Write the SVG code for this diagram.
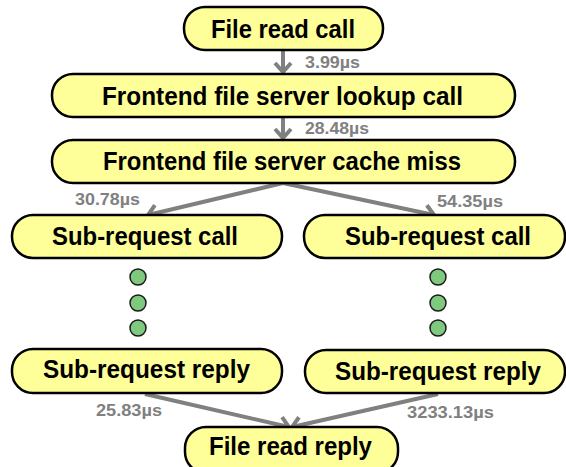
<svg xmlns="http://www.w3.org/2000/svg" width="566" height="467" viewBox="0 0 566 467">
<style>
.node{fill:#ffff99;stroke:#000;stroke-width:2.5}
.nt{font-family:"Liberation Sans",Arial,sans-serif;font-weight:bold;font-size:25px;fill:#000}
.lb{font-family:"Liberation Sans",Arial,sans-serif;font-weight:bold;font-size:17px;fill:#808080}
.edge{stroke:#808080;stroke-width:4;fill:none}
.dot{fill:#7fc97f;stroke:#1a1a1a;stroke-width:1.5}
</style>
<defs>
<marker id="ah" markerUnits="userSpaceOnUse" viewBox="-12 -10 14 20" markerWidth="14" markerHeight="20" refX="0" refY="0" orient="auto" overflow="visible">
<path d="M-9,-8 L0,0 L-9,8" fill="none" stroke="#808080" stroke-width="4"/>
</marker>
</defs>
<g id="connectors">
<line class="edge" x1="283" y1="51" x2="283" y2="72" marker-end="url(#ah)"/>
<line class="edge" x1="283" y1="118" x2="283" y2="138" marker-end="url(#ah)"/>
<line class="edge" x1="283" y1="183" x2="148" y2="215" marker-end="url(#ah)"/>
<line class="edge" x1="283" y1="183" x2="434" y2="215" marker-end="url(#ah)"/>
<line class="edge" x1="145" y1="394" x2="289" y2="427" marker-end="url(#ah)"/>
<line class="edge" x1="438" y1="394" x2="292" y2="427" marker-end="url(#ah)"/>
<text class="lb" x="305" y="68" textLength="55" lengthAdjust="spacingAndGlyphs">3.99µs</text>
<text class="lb" x="305" y="134" textLength="64" lengthAdjust="spacingAndGlyphs">28.48µs</text>
<text class="lb" x="75" y="205" textLength="65" lengthAdjust="spacingAndGlyphs">30.78µs</text>
<text class="lb" x="437" y="207" textLength="66" lengthAdjust="spacingAndGlyphs">54.35µs</text>
<text class="lb" x="96" y="416" textLength="66" lengthAdjust="spacingAndGlyphs">25.83µs</text>
<text class="lb" x="407" y="418" textLength="87" lengthAdjust="spacingAndGlyphs">3233.13µs</text>
</g>
<g id="n1"><rect class="node" x="184" y="7" width="199" height="43" rx="21"/><text class="nt" x="211" y="38" textLength="144" lengthAdjust="spacingAndGlyphs">File read call</text></g>
<g id="n2"><rect class="node" x="52" y="74" width="463" height="43" rx="21"/><text class="nt" x="102" y="105" textLength="361" lengthAdjust="spacingAndGlyphs">Frontend file server lookup call</text></g>
<g id="n3"><rect class="node" x="52" y="140" width="463" height="43" rx="21"/><text class="nt" x="103" y="170" textLength="358" lengthAdjust="spacingAndGlyphs">Frontend file server cache miss</text></g>
<g id="n4"><rect class="node" x="12" y="215" width="270" height="43" rx="21"/><text class="nt" x="52" y="245" textLength="186" lengthAdjust="spacingAndGlyphs">Sub-request call</text></g>
<g id="n5"><rect class="node" x="304" y="215" width="261" height="43" rx="21"/><text class="nt" x="345" y="245" textLength="186" lengthAdjust="spacingAndGlyphs">Sub-request call</text></g>
<g id="dotsL"><circle class="dot" cx="138" cy="277" r="8"/><circle class="dot" cx="138" cy="303" r="8"/><circle class="dot" cx="138" cy="328" r="8"/></g>
<g id="dotsR"><circle class="dot" cx="438" cy="277" r="8"/><circle class="dot" cx="438" cy="303" r="8"/><circle class="dot" cx="438" cy="328" r="8"/></g>
<g id="n6"><rect class="node" x="12" y="349" width="270" height="44" rx="21"/><text class="nt" x="43" y="378" textLength="207" lengthAdjust="spacingAndGlyphs">Sub-request reply</text></g>
<g id="n7"><rect class="node" x="305" y="350" width="260" height="43" rx="21"/><text class="nt" x="335" y="380" textLength="206" lengthAdjust="spacingAndGlyphs">Sub-request reply</text></g>
<g id="n8"><rect class="node" x="185" y="427" width="213" height="46" rx="21"/><text class="nt" x="209" y="455" textLength="163" lengthAdjust="spacingAndGlyphs">File read reply</text></g>
</svg>
